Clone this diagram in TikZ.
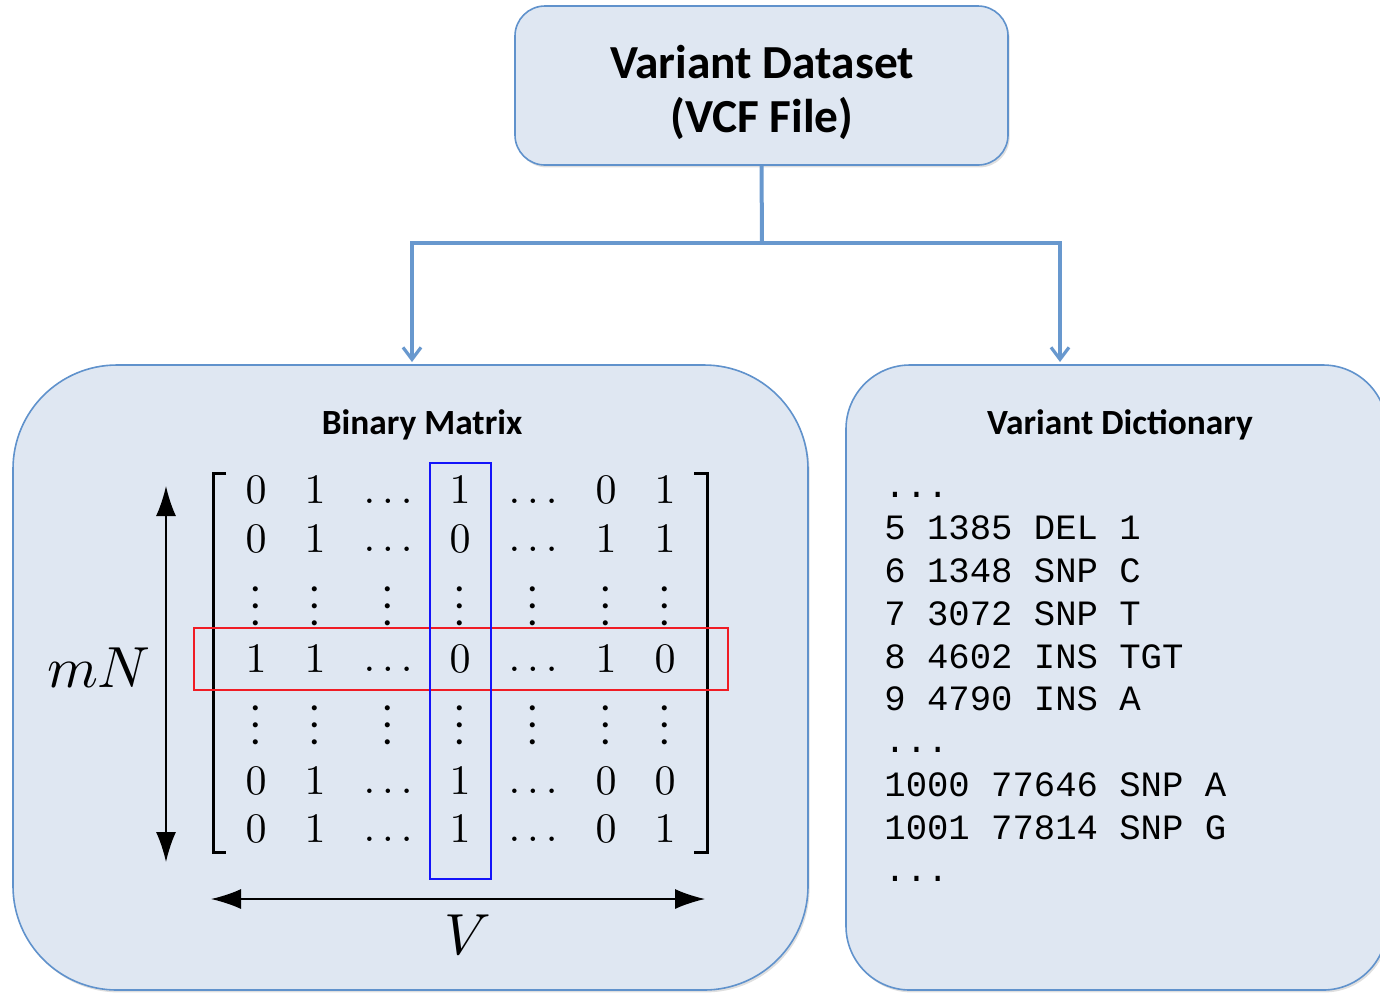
\documentclass[tikz,border=0pt]{standalone}
\usepackage{fontspec}
\setmainfont{Carlito}
\newfontfamily\monofont{Liberation Mono}
\usetikzlibrary{arrows.meta,shadows}
\definecolor{boxfill}{RGB}{223,231,242}
\definecolor{boxline}{RGB}{96,146,204}
\definecolor{conncol}{RGB}{104,152,206}
\definecolor{rowred}{RGB}{240,28,36}
\definecolor{colblue}{RGB}{20,20,250}
\tikzset{
  panel/.style={draw=boxline, line width=0.8pt, fill=boxfill, inner sep=0pt,
    drop shadow={opacity=0.25, shadow xshift=0.8pt, shadow yshift=-1.2pt}},
  conn/.style={draw=conncol, line width=2pt},
  conntip/.style={-{Straight Barb[length=6pt,width=9pt,line width=1.6pt]}},
  title/.style={font=\bfseries\fontsize{17.7}{20}\selectfont, inner sep=0pt, anchor=base},
  entry/.style={inner sep=0pt},
  vdot/.style={inner sep=0pt, anchor=south},
  dictline/.style={font=\monofont\fontsize{17.8}{20}\selectfont, inner sep=0pt, anchor=base west},
  dimarrow/.style={line width=0.8pt, {Latex[length=15pt,width=10pt]}-{Latex[length=15pt,width=10pt]}},
  bracket/.style={line width=1.5pt},
}
\newcommand{\ent}[1]{\scalebox{2.1}{$#1$}}
\newcommand{\myvdots}{\vbox{\baselineskip4pt\lineskiplimit0pt\hbox{.}\hbox{.}\hbox{.}}}
\begin{document}
\begin{tikzpicture}[x=0.5pt,y=-0.5pt]
\useasboundingbox (0,0) rectangle (1380,993);
\clip (0,0) rectangle (1380,993);

% top box
\node[panel, rounded corners=15pt, minimum width=246.5pt, minimum height=79.5pt] (top) at (761.5,85.5) {};
\node[font=\bfseries\fontsize{23.7}{27}\selectfont, inner sep=0pt, anchor=base] (t1) at (762,78) {Variant Dataset};
\node[font=\bfseries\fontsize{23.7}{27}\selectfont, inner sep=0pt, anchor=base] (t2) at (762,132) {(VCF File)};

% lower panels
\node[panel, rounded corners=52pt, minimum width=397.5pt, minimum height=312.5pt] (bin) at (410.5,677.5) {};
\node[panel, rounded corners=32pt, minimum width=270.5pt, minimum height=312.5pt] (dict) at (1116.5,677.5) {};

% connectors
\coordinate (j) at (762,243);
\coordinate (lt) at (412,362);
\coordinate (rt) at (1060,362);
\draw[conn] (top.south) -- (j);
\draw[conn, conntip] (j) -| (lt);
\draw[conn, conntip] (j) -| (rt);

% titles
\node[title] (bt) at (422,434) {Binary Matrix};
\node[title] (dt) at (1120,434) {Variant Dictionary};

% matrix entries
\node[entry] (a11) at (256,490) {\ent{0}};
\node[entry] (a12) at (315,490) {\ent{1}};
\node[entry] (a13) at (388,501) {\ent{\ldots}};
\node[entry] (a14) at (460,490) {\ent{1}};
\node[entry] (a15) at (533,501) {\ent{\ldots}};
\node[entry] (a16) at (606,490) {\ent{0}};
\node[entry] (a17) at (665,490) {\ent{1}};

\node[entry] (a21) at (256,539) {\ent{0}};
\node[entry] (a22) at (315,539) {\ent{1}};
\node[entry] (a23) at (388,549) {\ent{\ldots}};
\node[entry] (a24) at (460,539) {\ent{0}};
\node[entry] (a25) at (533,549) {\ent{\ldots}};
\node[entry] (a26) at (606,539) {\ent{1}};
\node[entry] (a27) at (665,539) {\ent{1}};

\foreach \c/\x in {1/256,2/315,3/388,4/460,5/533,6/606,7/665}{
  \node[vdot] (v3\c) at (\x,626) {\ent{\myvdots}};
  \node[vdot] (v5\c) at (\x,745) {\ent{\myvdots}};
}

\node[entry] (a41) at (256,659) {\ent{1}};
\node[entry] (a42) at (315,659) {\ent{1}};
\node[entry] (a43) at (388,669) {\ent{\ldots}};
\node[entry] (a44) at (460,659) {\ent{0}};
\node[entry] (a45) at (533,669) {\ent{\ldots}};
\node[entry] (a46) at (606,659) {\ent{1}};
\node[entry] (a47) at (665,659) {\ent{0}};

\node[entry] (a61) at (256,781) {\ent{0}};
\node[entry] (a62) at (315,781) {\ent{1}};
\node[entry] (a63) at (388,791) {\ent{\ldots}};
\node[entry] (a64) at (460,781) {\ent{1}};
\node[entry] (a65) at (533,791) {\ent{\ldots}};
\node[entry] (a66) at (606,781) {\ent{0}};
\node[entry] (a67) at (665,781) {\ent{0}};

\node[entry] (a71) at (256,829) {\ent{0}};
\node[entry] (a72) at (315,829) {\ent{1}};
\node[entry] (a73) at (388,839) {\ent{\ldots}};
\node[entry] (a74) at (460,829) {\ent{1}};
\node[entry] (a75) at (533,839) {\ent{\ldots}};
\node[entry] (a76) at (606,829) {\ent{0}};
\node[entry] (a77) at (665,829) {\ent{1}};

% brackets
\draw[bracket] (226,473) -- (213,473) -- (213,852) -- (226,852);
\draw[bracket] (694,473) -- (707,473) -- (707,852) -- (694,852);

% highlight rectangles
\draw[rowred, line width=0.8pt] (194,628) rectangle (728,690);
\draw[colblue, line width=0.8pt] (430,463) rectangle (491,879);

% dimension arrows
\coordinate (vt) at (166,486);
\coordinate (vb) at (166,862);
\coordinate (hl) at (211,899);
\coordinate (hr) at (705,899);
\draw[dimarrow] (vt) -- (vb);
\draw[dimarrow] (hl) -- (hr);
\node[inner sep=0pt] (mn) at (99,668) {\scalebox{2.9}{$mN$}};
\node[inner sep=0pt] (vl) at (468,935) {\scalebox{2.9}{$V$}};

% dictionary
\node[dictline] (d0) at (884,497) {...};
\node[dictline] (d1) at (884,539) {5 1385 DEL 1};
\node[dictline] (d2) at (884,582) {6 1348 SNP C};
\node[dictline] (d3) at (884,625) {7 3072 SNP T};
\node[dictline] (d4) at (884,668) {8 4602 INS TGT};
\node[dictline] (d5) at (884,710) {9 4790 INS A};
\node[dictline] (d6) at (884,752) {...};
\node[dictline] (d7) at (884,796) {1000 77646 SNP A};
\node[dictline] (d8) at (884,839) {1001 77814 SNP G};
\node[dictline] (d9) at (884,881) {...};
\end{tikzpicture}
\end{document}
